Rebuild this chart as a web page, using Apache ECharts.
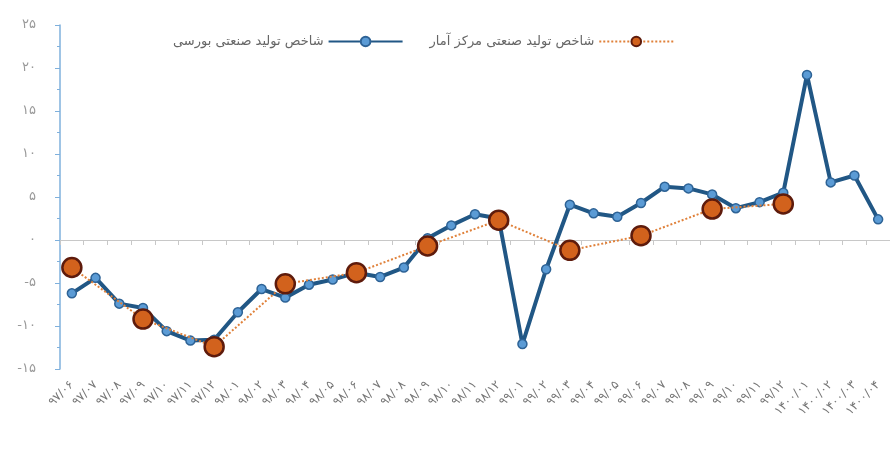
<!DOCTYPE html>
<html>
<head>
<meta charset="utf-8">
<script src="https://cdn.jsdelivr.net/npm/echarts@6/dist/echarts.min.js"></script>
<style>
  html, body { margin: 0; padding: 0; background: #fff; }
  #main { width: 890px; height: 450px; }
</style>
</head>
<body>
<div id="main"></div>
<script>
// months (Persian calendar), 97/06 .. 1400/04
var months = [
  "۹۷/۰۶", "۹۷/۰۷", "۹۷/۰۸", "۹۷/۰۹", "۹۷/۱۰", "۹۷/۱۱", "۹۷/۱۲",
  "۹۸/۰۱", "۹۸/۰۲", "۹۸/۰۳", "۹۸/۰۴", "۹۸/۰۵", "۹۸/۰۶", "۹۸/۰۷", "۹۸/۰۸", "۹۸/۰۹", "۹۸/۱۰", "۹۸/۱۱", "۹۸/۱۲",
  "۹۹/۰۱", "۹۹/۰۲", "۹۹/۰۳", "۹۹/۰۴", "۹۹/۰۵", "۹۹/۰۶", "۹۹/۰۷", "۹۹/۰۸", "۹۹/۰۹", "۹۹/۱۰", "۹۹/۱۱", "۹۹/۱۲",
  "۱۴۰۰/۰۱", "۱۴۰۰/۰۲", "۱۴۰۰/۰۳", "۱۴۰۰/۰۴"
];

var boursiName = "شاخص تولید صنعتی بورسی";
var amarName = "شاخص تولید صنعتی مرکز آمار";

// monthly index from listed companies
var boursi = [
  -6.2, -4.4, -7.4, -7.9, -10.6, -11.7, -11.6,
  -8.4, -5.7, -6.7, -5.2, -4.6, -3.8, -4.3, -3.2, 0.2, 1.7, 3.0, 2.5,
  -12.1, -3.4, 4.1, 3.1, 2.7, 4.3, 6.2, 6.0, 5.3, 3.7, 4.4, 5.5,
  19.2, 6.7, 7.5, 2.4
];

// quarterly values from statistics centre (null = no value that month)
var amar = [
  -3.2, null, null, -9.2, null, null, -12.4,
  null, null, -5.1, null, null, -3.8, null, null, -0.7, null, null, 2.3,
  null, null, -1.2, null, null, 0.5, null, null, 3.6, null, null, 4.2,
  null, null, null, null
];

var yTicks = { min: -15, max: 25, step: 5 };

var faDigits = "۰۱۲۳۴۵۶۷۸۹";
function toFa(v) {
  var s = String(Math.abs(v)).replace(/[0-9]/g, function (d) { return faDigits[+d]; });
  return (v < 0 ? "-" : "") + s;
}

var myChart = echarts.init(document.getElementById("main"));
var option = {
  animation: false,
  textStyle: { fontFamily: "DejaVu Sans" },
  legend: {
    top: 30,
    left: 168,
    align: "right",
    itemWidth: 74,
    itemHeight: 12,
    itemGap: 26,
    textStyle: { color: "#666", fontSize: 13 },
    data: [boursiName, amarName]
  },
  grid: { left: 60, top: 25, width: 836, height: 344 },
  xAxis: [
    {
      type: "category",
      data: months,
      boundaryGap: true,
      axisLine: { onZero: true, lineStyle: { color: "#c8c8c8", width: 1 } },
      axisTick: { show: true, interval: 0, length: 5, lineStyle: { color: "#c8c8c8" } },
      axisLabel: { show: false },
      splitLine: { show: false }
    },
    {
      type: "category",
      data: months,
      position: "bottom",
      boundaryGap: true,
      axisLine: { show: false, onZero: false },
      axisTick: { show: false },
      axisLabel: {
        interval: 0,
        rotate: 45,
        margin: 14,
        color: "#777",
        fontSize: 12
      },
      splitLine: { show: false }
    }
  ],
  yAxis: {
    type: "value",
    min: yTicks.min,
    max: yTicks.max,
    interval: yTicks.step,
    axisLine: { show: true, lineStyle: { color: "#7fb0dc", width: 1.5 } },
    axisTick: { show: true, length: 5, lineStyle: { color: "#7fb0dc" } },
    minorTick: { show: true, splitNumber: 2, length: 3, lineStyle: { color: "#7fb0dc" } },
    splitLine: { show: false },
    axisLabel: {
      color: "#999",
      fontSize: 13,
      margin: 24,
      formatter: function (v) { return toFa(v); }
    }
  },
  series: [
    {
      name: boursiName,
      type: "line",
      data: boursi,
      symbol: "circle",
      symbolSize: 9,
      showAllSymbol: true,
      lineStyle: { color: "#215785", width: 4 },
      itemStyle: { color: "#5b9bd5", borderColor: "#2e6396", borderWidth: 1.5 },
      z: 2
    },
    {
      name: amarName,
      type: "line",
      data: amar,
      connectNulls: true,
      symbol: "circle",
      symbolSize: 19,
      showAllSymbol: true,
      lineStyle: { color: "#e0813a", width: 2, type: "dotted" },
      itemStyle: { color: "#d2621d", borderColor: "#5e1b0c", borderWidth: 2.5 },
      z: 3
    }
  ]
};
option && myChart.setOption(option);
</script>
</body>
</html>
